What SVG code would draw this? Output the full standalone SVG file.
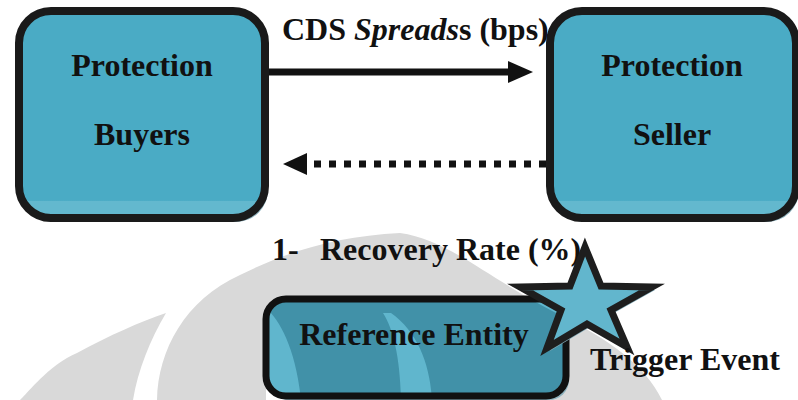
<svg xmlns="http://www.w3.org/2000/svg" width="798" height="400" viewBox="0 0 798 400">
<style>
  text { font-family: 'Liberation Serif', serif; font-weight: 700; font-size: 32px; fill: #111; }
  .box { stroke: #1a1a1a; stroke-width: 8; fill: url(#boxFill); }
  .shadow { fill: #8db2be; }
  .wm { fill: #d9d9d9; fill-rule: evenodd; }
</style>
<defs>
  <linearGradient id="boxFill" x1="0" y1="0" x2="0" y2="1">
    <stop offset="0" stop-color="#4aabc5"/>
    <stop offset="0.915" stop-color="#4aabc5"/>
    <stop offset="0.92" stop-color="#63b8ce"/>
    <stop offset="1" stop-color="#63b8ce"/>
  </linearGradient>
  <path id="wmMain" d="M157,400 C158,350 185,300 240,275 C290,250 340,236 400,233 C450,240 490,280 560,315 C610,340 645,365 662,400 Z M266,400 L266,308 C280,320 296,350 301,400 Z M383,313 C394,330 400,360 401,400 L432,400 C430,365 418,332 391,313 Z"/>
  <clipPath id="refClip"><rect x="266" y="299" width="300" height="97" rx="20"/></clipPath>
</defs>

<g id="watermark">
  <use href="#wmMain" class="wm"/>
  <path class="wm" d="M20,400 C35,385 50,365 77,353 C110,335 140,322 166,313 C150,340 138,370 133,400 Z"/>
</g>

<g id="buyers">
  <rect class="shadow" x="22" y="15" width="246" height="207" rx="32"/>
  <rect class="box" x="19" y="11" width="246" height="207" rx="32"/>
  <text x="142" y="76" text-anchor="middle" font-family="Liberation Serif, serif">Protection</text>
  <text x="142" y="145" text-anchor="middle" font-family="Liberation Serif, serif">Buyers</text>
</g>

<g id="seller">
  <rect class="shadow" x="553" y="15" width="246" height="207" rx="32"/>
  <rect class="box" x="550" y="11" width="246" height="207" rx="32"/>
  <text x="672" y="76" text-anchor="middle" font-family="Liberation Serif, serif">Protection</text>
  <text x="672" y="145" text-anchor="middle" font-family="Liberation Serif, serif">Seller</text>
</g>

<g id="connectors">
  <line x1="269" y1="72" x2="510" y2="72" stroke="#111" stroke-width="7"/>
  <polygon points="508,61 533,72 508,83" fill="#111"/>
  <path d="M546,164 L309,164" stroke="#111" stroke-width="7" stroke-dasharray="7 8" fill="none"/>
  <polygon points="307,153 283,164 307,175" fill="#111"/>
  <text x="282" y="40" font-family="Liberation Serif, serif">CDS <tspan font-style="italic">Spreads</tspan>s (bps)</text>
</g>

<g id="recovery">
  <text x="272" y="260" font-family="Liberation Serif, serif">1-</text>
  <text x="320" y="260" font-family="Liberation Serif, serif">Recovery Rate (%)</text>
</g>

<g id="reference">
  <rect x="269" y="303" width="300" height="97" rx="20" class="shadow"/>
  <rect x="266" y="299" width="300" height="97" rx="20" fill="#60b6cd"/>
  <g clip-path="url(#refClip)">
    <use href="#wmMain" fill="#4191a8" fill-rule="evenodd"/>
  </g>
  <rect x="266" y="299" width="300" height="97" rx="20" fill="none" stroke="#111" stroke-width="7"/>
  <text x="414" y="345" text-anchor="middle" font-family="Liberation Serif, serif">Reference Entity</text>
</g>

<g id="trigger">
  <polygon points="588,250 604,289 655,290 614,313 630,350 590,327 550,351 564,313 523,290 573,289" fill="#7fa9b6"/>
  <polygon points="585,247 601,286 652,287 611,310 627,347 587,324 547,348 561,310 520,287 570,286" fill="#62b6cd" stroke="#1e1e1e" stroke-width="7" stroke-linejoin="miter"/>
  <text x="590" y="370" font-family="Liberation Serif, serif">Trigger Event</text>
</g>
</svg>
